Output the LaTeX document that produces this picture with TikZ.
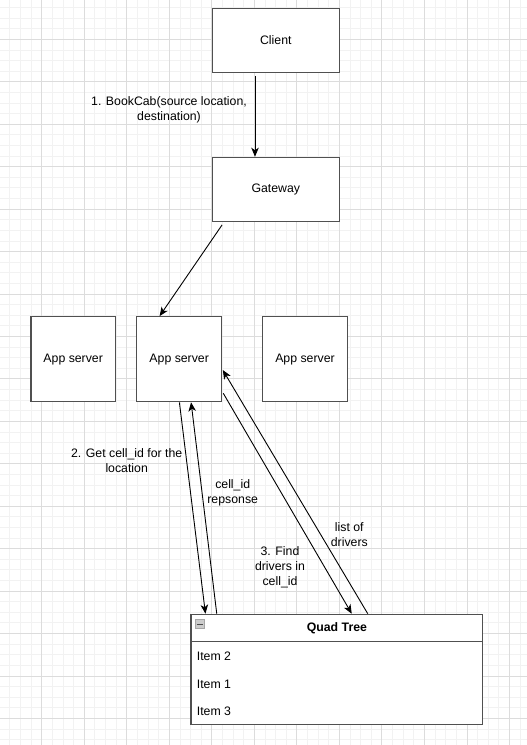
\documentclass[tikz,border=0pt]{standalone}
\usepackage{fontspec}
\setmainfont{Liberation Sans}
\usetikzlibrary{arrows.meta,calc}
\definecolor{gridminor}{HTML}{F2F2F2}
\definecolor{gridmajor}{HTML}{DCDCDC}
\definecolor{boxline}{HTML}{505050}
\tikzset{
  box/.style={draw=boxline, line width=1.2pt, fill=white, inner sep=0pt,
    font=\fontsize{12.3}{15}\selectfont, text=black},
  lbl/.style={align=center, inner sep=0pt, font=\fontsize{12.3}{15}\selectfont, text=black},
  item/.style={anchor=west, inner sep=0pt, font=\fontsize{12.3}{15}\selectfont, text=black},
  conn/.style={draw=black, line width=0.9pt, -{Stealth[length=9pt,width=7.5pt,inset=2.5pt]}},
}
\begin{document}
\begin{tikzpicture}[x=1pt,y=-1pt]
\useasboundingbox (0,0) rectangle (527,745);
\fill[white] (0,0) rectangle (527,745);
% grid
\foreach \k in {0,...,50}{
  \pgfmathsetmacro{\gx}{-0.8+10.63*\k}
  \draw[gridminor, line width=0.8pt] (\gx,0) -- (\gx,745);
}
\foreach \k in {0,...,71}{
  \pgfmathsetmacro{\gy}{-3.1+10.61*\k}
  \draw[gridminor, line width=0.8pt] (0,\gy) -- (527,\gy);
}
\foreach \k in {0,4,...,48}{
  \pgfmathsetmacro{\gx}{-0.8+10.63*\k}
  \draw[gridmajor, line width=0.8pt] (\gx,0) -- (\gx,745);
}
\foreach \k in {0,4,...,68}{
  \pgfmathsetmacro{\gy}{-3.1+10.61*\k}
  \draw[gridmajor, line width=0.8pt] (0,\gy) -- (527,\gy);
}

% boxes
\node[box, minimum width=127pt, minimum height=63.6pt] (client) at (275.8,40.5) {Client};
\node[box, minimum width=127pt, minimum height=64pt] (gw) at (275.8,189.3) {Gateway};
\node[box, minimum width=84.3pt, minimum height=85pt] (as1) at (73.2,359.2) {App server};
\node[box, minimum width=85pt, minimum height=85pt] (as2) at (179.2,359.2) {App server};
\node[box, minimum width=84.6pt, minimum height=85pt] (as3) at (305,359.2) {App server};

% quad tree
\node[box, minimum width=291.7pt, minimum height=110.4pt] (qt) at (336.9,669.5) {};
\coordinate (qtdl) at ($(qt.north west)+(0,27.7)$);
\coordinate (qtdr) at ($(qt.north east)+(0,27.7)$);
\draw[boxline, line width=1.2pt] (qtdl) -- (qtdr);
\node[lbl, font=\fontsize{12.3}{15}\selectfont\bfseries] (qttitle) at (336.9,628.3) {Quad Tree};
\node[draw=gray!70, fill=gray!40, minimum width=9.5pt, minimum height=9.5pt, inner sep=0pt, line width=0.6pt] (qtminus) at (200,624) {};
\draw[black!70, line width=1pt] ($(qtminus.west)+(2,0)$) -- ($(qtminus.east)+(-2,0)$);
\node[item] (it2) at (196.7,656.7) {Item 2};
\node[item] (it1) at (196.7,684.7) {Item 1};
\node[item] (it3) at (196.7,711.2) {Item 3};

% connectors
\draw[conn] ([xshift=-20.8pt,yshift=-3pt]client.south) -- ([xshift=-20.8pt]gw.north);
\draw[conn] ([xshift=10.4pt,yshift=-3pt]gw.south west) -- ([xshift=23.5pt]as2.north west);
\draw[conn] ([xshift=43.3pt]as2.south west) -- ([xshift=15pt]qt.north west);
\draw[conn] ([xshift=26.3pt]qt.north west) -- ([xshift=55pt]as2.south west);
\draw[conn] ([yshift=9pt,xshift=1pt]as2.south east) -- ([xshift=161.3pt]qt.north west);
\draw[conn] ([xshift=177.3pt]qt.north west) -- ([yshift=-10.8pt,xshift=0.5pt]as2.east);

% labels
\node[lbl] (l1) at (169,109.8) {1. BookCab(source location,\\destination)};
\node[lbl] (l2) at (126.7,460.2) {2. Get cell\_id for the\\location};
\node[lbl] (l3) at (232.7,493) {cell\_id\\repsonse};
\node[lbl] (l4) at (349.3,534.7) {list of\\drivers};
\node[lbl] (l5) at (280,566.8) {3. Find\\drivers in\\cell\_id};
\end{tikzpicture}
\end{document}
